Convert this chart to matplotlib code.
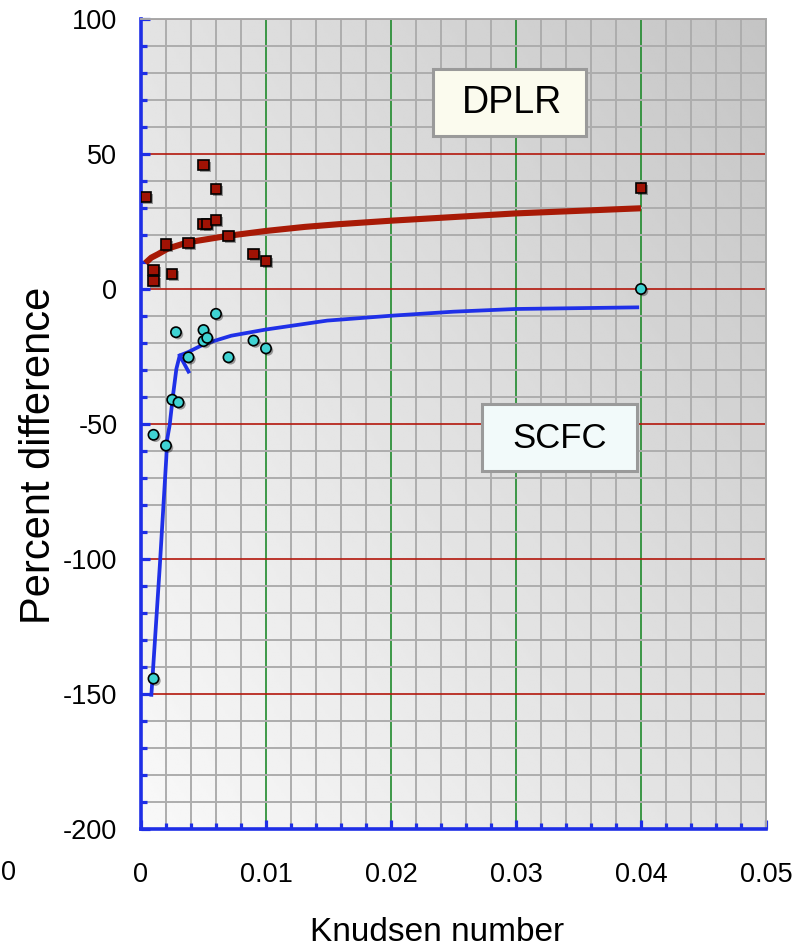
import numpy as np
import matplotlib
matplotlib.use("Agg")
import matplotlib.pyplot as plt
from matplotlib import patheffects as pe
from matplotlib.patches import Rectangle
from matplotlib.ticker import MultipleLocator

plt.rcParams["font.family"] = ["Liberation Sans", "DejaVu Sans"]

# Measured comparison points: Knudsen number vs. percent difference
dplr_kn = [0.0004, 0.001, 0.001, 0.002, 0.0025, 0.0038, 0.005, 0.005, 0.0053,
           0.006, 0.006, 0.007, 0.009, 0.010, 0.040]
dplr_pct = [34, 7, 3, 16.5, 5.5, 17, 46, 24, 24, 37, 25.5, 19.7, 13, 10.5, 37.5]

scfc_kn = [0.001, 0.001, 0.002, 0.0025, 0.0028, 0.003, 0.0038, 0.005, 0.005,
           0.0053, 0.006, 0.007, 0.009, 0.010, 0.040]
scfc_pct = [-144.3, -54, -58, -41, -16, -42, -25.3, -15.2, -19.3, -18.1, -9.2,
            -25.3, -19.1, -22, 0]

# Trend curves
dplr_fit_kn = [0.00035, 0.00082, 0.00136, 0.00216, 0.00376, 0.00696, 0.0100,
               0.0131, 0.0158, 0.0200, 0.0300, 0.0400]
dplr_fit_pct = [9.6, 11.6, 12.9, 15.0, 17.3, 19.7, 21.5, 23.0, 24.0, 25.3, 28.0, 29.9]

scfc_rise_kn = [0.00083, 0.0015, 0.00202, 0.0021, 0.00229, 0.00256, 0.00283,
                0.0031, 0.0038]
scfc_rise_pct = [-150.3, -102.9, -62.8, -55.5, -50.5, -39.4, -29.6, -24.6, -30.6]

scfc_fit_kn = [0.0031, 0.00376, 0.0051, 0.00722, 0.0100, 0.0149, 0.0200,
               0.0250, 0.0300, 0.0397]
scfc_fit_pct = [-24.6, -23.4, -20.3, -17.3, -15.0, -11.7, -9.9, -8.4, -7.4, -6.8]

x_ticks = [0, 0.01, 0.02, 0.03, 0.04, 0.05]
x_tick_labels = ["0", "0.01", "0.02", "0.03", "0.04", "0.05"]
y_ticks = [100, 50, 0, -50, -100, -150, -200]
y_tick_labels = ["100", "50", "0", "-50", "-100", "-150", "-200"]

W, H = 801, 952
fig = plt.figure(figsize=(W / 100, H / 100), dpi=100)
fig.patch.set_facecolor("white")
ax = fig.add_axes([141 / W, (H - 829) / H, 625 / W, 810 / H])

# shaded plot background, light at lower left, darker toward upper right
u = np.linspace(0, 1, 256)
U, V = np.meshgrid(u, u)
shade = 0.975 - 0.095 * U - 0.085 * V - 0.025 * U * V
ax.imshow(shade, cmap="gray", vmin=0, vmax=1, extent=[0, 1, 0, 1],
          transform=ax.transAxes, origin="lower", aspect="auto",
          interpolation="bilinear", zorder=0)

ax.set_xlim(0, 0.05)
ax.set_ylim(-200, 100)

ax.xaxis.set_major_locator(MultipleLocator(0.01))
ax.xaxis.set_minor_locator(MultipleLocator(0.002))
ax.yaxis.set_major_locator(MultipleLocator(50))
ax.yaxis.set_minor_locator(MultipleLocator(10))
ax.set_xticks(x_ticks, x_tick_labels)
ax.set_yticks(y_ticks, y_tick_labels)

ax.set_axisbelow(True)
ax.grid(which="minor", color="#adadad", linewidth=1.4)
ax.xaxis.grid(True, which="major", color="#1f8a2c", linewidth=1.2)
ax.yaxis.grid(True, which="major", color="#b3170c", linewidth=1.2)

blue = "#1e2ee6"
for side in ("left", "bottom"):
    ax.spines[side].set_color(blue)
    ax.spines[side].set_linewidth(2.6)
for side in ("top", "right"):
    ax.spines[side].set_color("#a8a8a8")
    ax.spines[side].set_linewidth(1.4)

ax.tick_params(which="both", direction="in", color=blue, width=2.3,
               labelsize=19.5, labelcolor="black")
ax.tick_params(which="major", length=6.8)
ax.tick_params(which="minor", length=4.5)
ax.tick_params(axis="y", pad=17)
ax.tick_params(axis="x", pad=24)

# trend curves
ax.plot(dplr_fit_kn, dplr_fit_pct, color="#a81a06", linewidth=4.4,
        solid_capstyle="butt", zorder=3)
ax.plot(scfc_rise_kn, scfc_rise_pct, color="#1f30e8", linewidth=2.7,
        solid_joinstyle="round", zorder=3)
ax.plot(scfc_fit_kn, scfc_fit_pct, color="#1f30e8", linewidth=2.7,
        solid_joinstyle="round", zorder=3)

shadow = [pe.SimplePatchShadow(offset=(1.5, -1.5), shadow_rgbFace="black",
                               alpha=0.35), pe.Normal()]
ax.plot(dplr_kn, dplr_pct, linestyle="none", marker="s", markersize=7.4,
        markerfacecolor="#a01204", markeredgecolor="black",
        markeredgewidth=1.2, zorder=4, path_effects=shadow)
ax.plot(scfc_kn, scfc_pct, linestyle="none", marker="o", markersize=7.4,
        markerfacecolor="#3fd3d3", markeredgecolor="black",
        markeredgewidth=1.2, zorder=4, path_effects=shadow)

# series name boxes
ax.add_patch(Rectangle((0.02338, 56.5), 0.01222, 25.1, facecolor="#fbfbee",
                       edgecolor="#9a9a9a", linewidth=2.2, zorder=5))
ax.text(0.02967, 69.0, "DPLR", fontsize=27, ha="center", va="center", zorder=6)
ax.add_patch(Rectangle((0.02725, -67.4), 0.0124, 24.9, facecolor="#f2fafa",
                       edgecolor="#9a9a9a", linewidth=2.2, zorder=5))
ax.text(0.03345, -55.2, "SCFC", fontsize=25, ha="center", va="center", zorder=6)

fig.text(437 / W, (H - 941) / H, "Knudsen number", fontsize=24,
         ha="center", va="baseline")
fig.text(50 / W, 1 - 455 / H, "Percent difference", fontsize=30,
         rotation=90, rotation_mode="anchor", ha="center", va="baseline")
fig.text(1 / W, 1 - 873 / H, "0", fontsize=19.5, ha="left", va="center")

fig.savefig("out.png", dpi=100)
